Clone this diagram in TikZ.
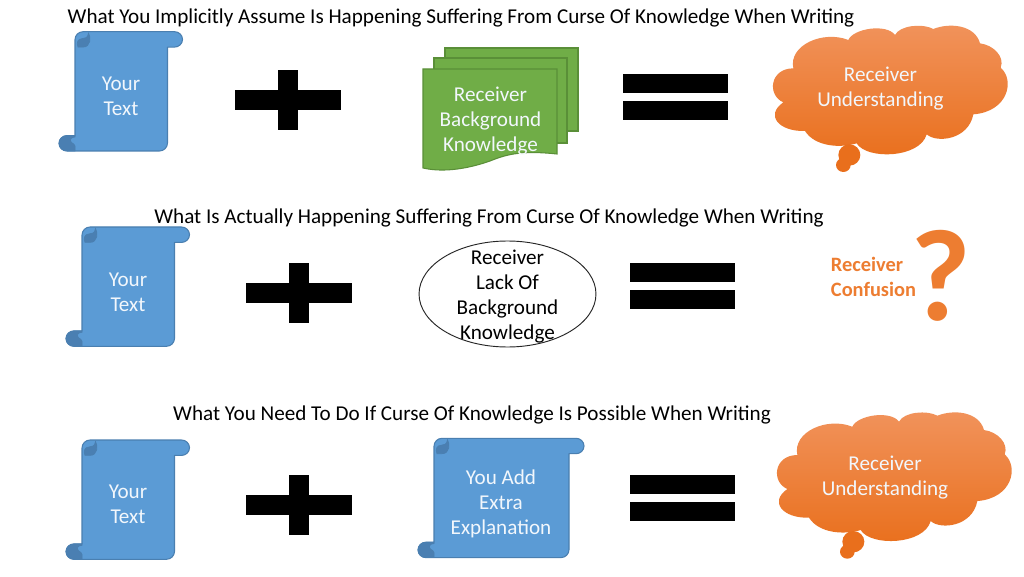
\documentclass[tikz,border=0pt]{standalone}
\usepackage{fontspec}
\setmainfont{Carlito}
\usetikzlibrary{calc,shapes.geometric}
\definecolor{sblue}{HTML}{5B9BD5}
\definecolor{sline}{HTML}{4A7FB0}
\definecolor{sdark}{HTML}{4A7FB2}
\definecolor{gfill}{HTML}{70AD47}
\definecolor{gline}{HTML}{5A8F38}
\definecolor{otop}{HTML}{F1935C}
\definecolor{obot}{HTML}{E96F1C}
\definecolor{oq}{HTML}{ED7D31}
\tikzset{
  x=0.75pt,y=-0.75pt,
  titletext/.style={font=\fontsize{15.85pt}{19pt}\selectfont,text=black,inner sep=0,anchor=center},
  whitetext/.style={font=\fontsize{15.85pt}{18.8pt}\selectfont,text=white!92!sblue,align=center,inner sep=0},
  blacktext/.style={font=\fontsize{15.85pt}{18.8pt}\selectfont,text=black,align=center,inner sep=0},
  oranget/.style={font=\bfseries\fontsize{15.3pt}{18.8pt}\selectfont,text=oq,align=left,inner sep=0},
  scrollbody/.style={fill=sblue,draw=sline,line width=0.8pt,line join=round},
  scrollcurl/.style={fill=sdark,draw=sline,line width=0.5pt},
  pagesheet/.style={fill=gfill,draw=gline,line width=0.8pt},
  mathbar/.style={fill=black,draw=none},
  cloudfill/.style={top color=otop,bottom color=obot,draw=none},
  bubble/.style={ellipse,draw=black!85,line width=0.7pt,fill=white,minimum width=132.7pt,minimum height=79.5pt,inner sep=0},
}
% L, T, body width, height
\newcommand{\scrollshape}[4]{%
 \begin{scope}[shift={(#1,#2)}]
  \path[scrollbody] (0,8) .. controls (0,3.6) and (3.6,0) .. (8,0)
   -- (#3+7,0) .. controls (#3+11.4,0) and (#3+15,3.4) .. (#3+15,7.7)
   .. controls (#3+15,12) and (#3+11.4,15.4) .. (#3+7,15.4)
   -- (#3,15.4) -- (#3,#4-8) .. controls (#3,#4-3.6) and (#3-3.6,#4) .. (#3-8,#4)
   -- (-8,#4) .. controls (-12.4,#4) and (-16,#4-3.4) .. (-16,#4-7.7)
   .. controls (-16,#4-12) and (-12.4,#4-15.4) .. (-8,#4-15.4)
   -- (0,#4-15.4) -- cycle;
  % top-left curl
  \path[scrollcurl] (3,15.4) .. controls (1,11) and (3,7) .. (7,7)
    .. controls (10,7) and (13,6) .. (13.5,1.5)
    .. controls (16,5) and (16,15.4) .. (8,15.4) -- cycle;
  % bottom-left roll
  \path[scrollcurl] (0,#4) -- (-8,#4) .. controls (-12.4,#4) and (-16,#4-3.4) .. (-16,#4-7.7)
   .. controls (-16,#4-12) and (-12.4,#4-15.4) .. (-8,#4-15.4)
   -- (0,#4-15.4) -- (0,#4-14)
   .. controls (-4,#4-14) and (-6,#4-11) .. (-3.5,#4-8.5)
   .. controls (-2,#4-7) and (0,#4-7) .. (0,#4-5) -- cycle;
 \end{scope}}
\newcommand{\cloudshape}[2]{%
 \begin{scope}[shift={(#1,#2)},x=0.25pt,y=-0.25pt]
  \path[cloudfill] (100,160)
   .. controls (85,90) and (190,45) .. (265,75)
   .. controls (280,40) and (380,25) .. (405,60)
   .. controls (420,30) and (490,25) .. (520,42)
   .. controls (570,22) and (645,30) .. (660,85)
   .. controls (700,90) and (735,125) .. (722,158)
   .. controls (765,195) and (745,290) .. (640,298)
   .. controls (625,375) and (530,385) .. (500,358)
   .. controls (480,430) and (320,435) .. (290,385)
   .. controls (240,400) and (165,395) .. (135,348)
   .. controls (55,350) and (15,300) .. (70,262)
   .. controls (20,240) and (30,160) .. (100,160)
   -- cycle;
  \path[fill=obot] (268,420) ellipse[x radius=33,y radius=32];
  \path[fill=obot] (250,450) ellipse[x radius=22,y radius=21];
 \end{scope}}
\newcommand{\plusshape}[2]{%
 \path[mathbar] (#1,#2+20) rectangle (#1+106,#2+40);
 \path[mathbar] (#1+43,#2) rectangle (#1+63,#2+60);}
\newcommand{\equalshape}[2]{%
 \path[mathbar] (#1,#2) rectangle (#1+105,#2+19);
 \path[mathbar] (#1,#2+27) rectangle (#1+105,#2+46);}
\begin{document}
\begin{tikzpicture}
\useasboundingbox (0,0) rectangle (1024,577);
\fill[white] (0,0) rectangle (1024,577);

% row 1
\node[titletext] (t1) at (461,18) {What You Implicitly Assume Is Happening Suffering From Curse Of Knowledge When Writing};
\scrollshape{75}{31.7}{92.5}{119.3}
\node[whitetext] (y1) at (121,96) {Your\\Text};
\plusshape{235}{70}
\path[pagesheet] (445,48) rectangle (578,131);
\path[pagesheet] (434,58) rectangle (567,143);
\path[pagesheet] (423,69) -- (557,69) -- (557,154)
   .. controls (520,150) and (505,155) .. (490,161) .. controls (470,168) and (445,173) .. (423,168) -- cycle;
\node[whitetext] (b1) at (490.5,121) {Receiver\\Background\\Knowledge};
\equalshape{623}{74}
\cloudshape{760}{15}
\node[whitetext] (c1) at (880.5,89) {Receiver\\Understanding};

% row 2
\node[titletext] (t2) at (489,218) {What Is Actually Happening Suffering From Curse Of Knowledge When Writing};
\scrollshape{82}{227}{92.5}{119.3}
\node[whitetext] (y2) at (128,292) {Your\\Text};
\plusshape{246}{263}
\node[bubble] (e2) at (507.5,294) {};
\node[blacktext] (e2t) at (507.5,296.5) {Receiver\\Lack Of\\Background\\Knowledge};
\equalshape{630}{263}
\node[oranget] (q2) at (873.5,277) {Receiver\\Confusion};
\node[font=\bfseries\fontsize{98pt}{98pt}\selectfont,text=oq,inner sep=0] (qm) at (941,276) {?};

% row 3
\node[titletext] (t3) at (472,415) {What You Need To Do If Curse Of Knowledge Is Possible When Writing};
\scrollshape{82}{440}{92.5}{119.3}
\node[whitetext] (y3) at (128,504) {Your\\Text};
\plusshape{246}{475}
\scrollshape{434}{438.3}{135}{119.3}
\node[whitetext] (x3) at (501,504) {You Add\\Extra\\Explanation};
\equalshape{630}{475}
\cloudshape{764}{401.7}
\node[whitetext] (c3) at (885,478) {Receiver\\Understanding};
\end{tikzpicture}
\end{document}
